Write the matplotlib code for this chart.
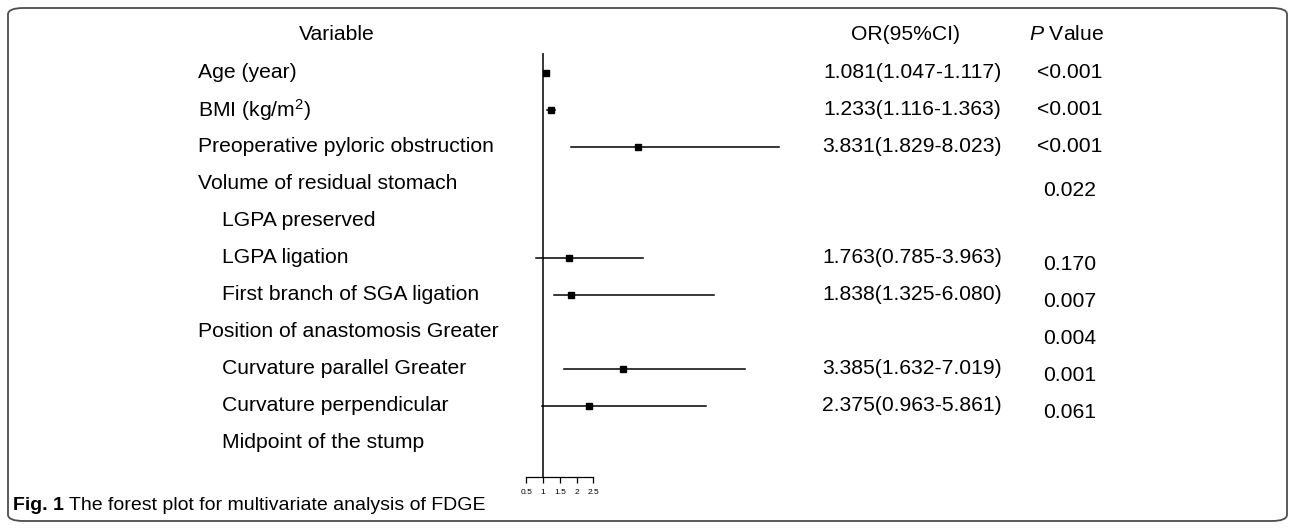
import matplotlib
matplotlib.use('Agg')
import matplotlib.pyplot as plt
from matplotlib.patches import FancyBboxPatch
from matplotlib.transforms import blended_transform_factory

plt.rcParams['font.family'] = ['Liberation Sans', 'DejaVu Sans']
plt.rcParams['mathtext.fontset'] = 'custom'
plt.rcParams['mathtext.rm'] = 'Liberation Sans'
plt.rcParams['mathtext.it'] = 'Liberation Sans:italic'

# rows of the table, top to bottom; indent flag marks sub-levels
labels = ['Age (year)', 'BMI (kg/m$^2$)', 'Preoperative pyloric obstruction',
          'Volume of residual stomach', 'LGPA preserved', 'LGPA ligation',
          'First branch of SGA ligation', 'Position of anastomosis Greater',
          'Curvature parallel Greater', 'Curvature perpendicular',
          'Midpoint of the stump']
indent = [0, 0, 0, 0, 1, 1, 1, 0, 1, 1, 1]
orval = [1.081, 1.233, 3.831, None, None, 1.763, 1.838, None, 3.385, 2.375, None]
lo = [1.047, 1.116, 1.829, None, None, 0.785, 1.325, None, 1.632, 0.963, None]
hi = [1.117, 1.363, 8.023, None, None, 3.963, 6.080, None, 7.019, 5.861, None]
pvals = ['<0.001', '<0.001', '<0.001', '0.022', '', '0.170', '0.007',
         '0.004', '0.001', '0.061', '']
xticks = [0.5, 1, 1.5, 2, 2.5]

W, H = 1292, 529
fig = plt.figure(figsize=(W / 100, H / 100), dpi=100)

# pixel layout: OR=1 at x=543, 33.6 px per unit; row i at y=73+37*i
pxu = 33.6
ax_l, ax_r, ax_t, ax_b = 500, 800, 40, 477
ax = fig.add_axes([ax_l / W, 1 - ax_b / H, (ax_r - ax_l) / W, (ax_b - ax_t) / H])
ax.set_xlim(1 + (ax_l - 543) / pxu, 1 + (ax_r - 543) / pxu)
ybot = (ax_b - 73) / 37.0
ax.set_ylim(ybot, (ax_t - 73) / 37.0)
ax.patch.set_alpha(0)
for s in ['top', 'right', 'left']:
    ax.spines[s].set_visible(False)
ax.spines['bottom'].set_bounds(xticks[0], xticks[-1])
ax.spines['bottom'].set_linewidth(0.9)
ax.set_yticks([])
ax.set_xticks(xticks)
ax.set_xticklabels(['0.5', '1', '1.5', '2', '2.5'])
ax.tick_params(axis='x', direction='out', length=4.5, width=0.9, pad=4,
               labelsize=6, colors='black')

ax.vlines(1, -0.55, ybot, color='black', lw=1.1)
for i in range(len(labels)):
    if orval[i] is None:
        continue
    ax.plot([lo[i], hi[i]], [i, i], color='black', lw=1.1)
    ax.plot(orval[i], i, marker='s', color='black', ms=3.8)

tr = blended_transform_factory(fig.transFigure, ax.transData)
fs = 15.2
fig.text(337 / W, 1 - 34 / H, 'Variable', ha='center', va='center', fontsize=fs)
fig.text(906 / W, 1 - 34 / H, 'OR(95%CI)', ha='center', va='center', fontsize=fs)
fig.text(1067 / W, 1 - 34 / H, '$P$ Value', ha='center', va='center', fontsize=fs)
for i, lab in enumerate(labels):
    x = (198 + 24 * indent[i]) / W
    ax.text(x, i, lab, transform=tr, ha='left', va='center', fontsize=fs)
    if orval[i] is not None:
        s = '%.3f(%.3f-%.3f)' % (orval[i], lo[i], hi[i])
        ax.text(912 / W, i, s, transform=tr, ha='center', va='center', fontsize=fs)
    if pvals[i]:
        dy = 0 if i < 3 else 0.17
        ax.text(1070 / W, i + dy, pvals[i], transform=tr, ha='center',
                va='center', fontsize=fs)

# rounded frame and caption
frame = FancyBboxPatch((8 / W, 8 / H), 1279 / W, 513 / H,
                       boxstyle='round,pad=0,rounding_size=0.012',
                       transform=fig.transFigure, fill=False,
                       edgecolor='#4d4d4d', lw=1.3)
fig.patches.append(frame)
t1 = fig.text(13 / W, 1 - 505 / H, 'Fig. 1', ha='left', va='center',
              fontsize=14, fontweight='bold')
t2 = fig.text(0, 0, ' The forest plot for multivariate analysis of FDGE',
              fontsize=14, ha='left', va='bottom')
# place the regular part right after the bold part
fig.canvas.draw()
bb = t1.get_window_extent()
t2.set_position((bb.x1 / W, bb.y0 / H))

fig.savefig('out.png', dpi=100)
